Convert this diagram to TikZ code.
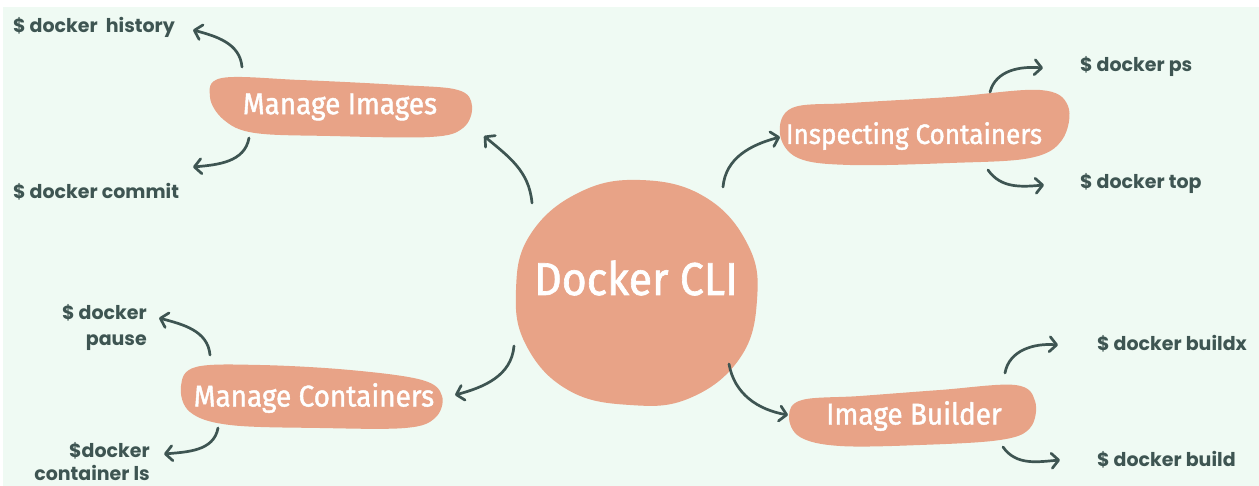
\documentclass[tikz,border=0pt]{standalone}
\usepackage{fontspec}
\setmainfont{Fira Sans}
\newfontfamily\topicfont{Fira Sans}[FakeBold=1.4, FakeStretch=0.93]
\newfontfamily\cmdfont{Poppins}[BoldFont={Poppins Bold}]
\usetikzlibrary{arrows.meta}
\definecolor{bgmint}{HTML}{EFFAF3}
\definecolor{blob}{HTML}{E8A387}
\definecolor{darkslate}{HTML}{3E5552}
\tikzset{
  blobfill/.style={fill=blob, draw=none},
  hubtext/.style={text=white, font=\topicfont\fontsize{46}{50}\selectfont, inner sep=0pt},
  topictext/.style={text=white, font=\topicfont\fontsize{30}{34}\selectfont, inner sep=0pt},
  cmdtext/.style={text=darkslate, font=\cmdfont\bfseries\fontsize{19}{26}\selectfont, inner sep=0pt},
  arr/.style={draw=darkslate, line width=2.7pt, line cap=round,
    -{Straight Barb[round, length=7pt, width=15pt, line width=2.7pt]}},
}
\begin{document}
\begin{tikzpicture}[x=1pt,y=1pt]
\useasboundingbox (0,0) rectangle (1259,-486);
\fill[white] (0,0) rectangle (1259,-486);
\fill[bgmint] (3,-7) rectangle (1259,-486);

% blobs
\fill[blobfill] plot[smooth cycle, tension=0.7] coordinates {
 (640,-180) (705,-197) (748,-245) (757,-300) (740,-358) (690,-398)
 (630,-405) (568,-390) (526,-345) (516,-290) (530,-235) (578,-193)};
\fill[blobfill] plot[smooth cycle, tension=0.6] coordinates {
 (222,-78) (300,-80) (400,-85) (458,-90) (472,-106) (463,-128) (430,-137)
 (330,-136) (255,-133) (224,-120) (210,-97)};
\fill[blobfill] plot[smooth cycle, tension=0.6] coordinates {
 (792,-108) (850,-103) (950,-97) (1040,-90) (1068,-106) (1062,-140)
 (1030,-158) (950,-163) (850,-165) (798,-158) (780,-134)};
\fill[blobfill] plot[smooth cycle, tension=0.6] coordinates {
 (196,-367) (260,-365) (350,-370) (422,-380) (442,-396) (435,-418)
 (405,-428) (320,-428) (230,-425) (190,-412) (181,-386)};
\fill[blobfill] plot[smooth cycle, tension=0.6] coordinates {
 (802,-400) (860,-396) (940,-390) (1015,-385) (1035,-401) (1030,-428)
 (1000,-440) (920,-445) (840,-446) (800,-437) (789,-416)};

% texts
\node[hubtext] (cli) at (636,-278) {Docker CLI};
\node[topictext] (mi) at (340,-107) {Manage Images};
\node[topictext, font=\topicfont\fontsize{28}{32}\selectfont] (ic) at (914,-136) {Inspecting Containers};
\node[topictext] (mc) at (314,-398) {Manage Containers};
\node[topictext] (ib) at (914,-416) {Image Builder};

\node[cmdtext, anchor=west] (hist) at (13,-27) {\$ docker\ \ history};
\node[cmdtext, anchor=west] (commit) at (13,-192) {\$ docker commit};
\node[cmdtext, anchor=east, align=right] (pause) at (147,-328) {\$ docker\\pause};
\node[cmdtext, anchor=east, align=right, font=\cmdfont\bfseries\fontsize{19}{23}\selectfont] (cls) at (150,-462) {\$docker\\container ls};
\node[cmdtext, anchor=west] (ps) at (1080,-67) {\$ docker ps};
\node[cmdtext, anchor=west] (top) at (1080,-184) {\$ docker top};
\node[cmdtext, anchor=west] (buildx) at (1097,-344) {\$ docker buildx};
\node[cmdtext, anchor=west] (build) at (1097,-460) {\$ docker build};

% arrow end points
\coordinate (cliNW) at (532,-203);
\coordinate (cliNE) at (723,-187);
\coordinate (cliSW) at (514,-346);
\coordinate (cliSE) at (729,-364);
\coordinate (miIn) at (484,-136);
\coordinate (icIn) at (780,-137);
\coordinate (mcIn) at (455,-395);
\coordinate (ibIn) at (788,-415);
\coordinate (miT) at (242,-67);
\coordinate (miB) at (249,-138);
\coordinate (mcT) at (210,-355);
\coordinate (mcB) at (218,-428);
\coordinate (icT) at (990,-92);
\coordinate (icB) at (988,-170);
\coordinate (ibT) at (1005,-373);
\coordinate (ibB) at (1003,-447);
\coordinate (histIn) at (193,-30);
\coordinate (commitIn) at (193,-167);
\coordinate (pauseIn) at (159,-318);
\coordinate (clsIn) at (164,-454);
\coordinate (psIn) at (1043,-68);
\coordinate (topIn) at (1044,-185);
\coordinate (buildxIn) at (1058,-345);
\coordinate (buildIn) at (1060,-460);

% hub arrows
\draw[arr] (cliNW) to[out=95, in=-40] (miIn);
\draw[arr] (cliNE) to[out=85, in=195] (icIn);
\draw[arr] (cliSW) to[out=-95, in=15] (mcIn);
\draw[arr] (cliSE) to[out=-80, in=170] (ibIn);

% command arrows
\draw[arr] (miT) to[out=95, in=-15] (histIn);
\draw[arr] (miB) to[out=-100, in=5] (commitIn);
\draw[arr] (mcT) to[out=95, in=-15] (pauseIn);
\draw[arr] (mcB) to[out=-100, in=5] (clsIn);
\draw[arr] (icT) to[out=75, in=175] (psIn);
\draw[arr] (icB) to[out=-55, in=185] (topIn);
\draw[arr] (ibT) to[out=80, in=175] (buildxIn);
\draw[arr] (ibB) to[out=-55, in=185] (buildIn);
\end{tikzpicture}
\end{document}
